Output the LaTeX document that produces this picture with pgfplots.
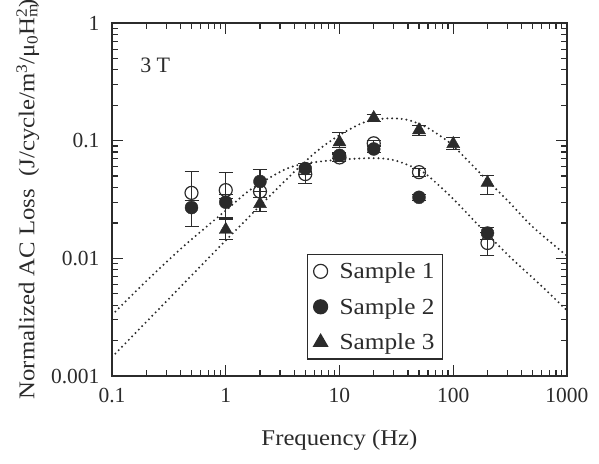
\documentclass[border=0pt]{standalone}
\usepackage{fontspec}
\setmainfont{Liberation Serif}
\newfontfamily\wide[FakeStretch=1.1]{Liberation Serif}
\usepackage{pgfplots}
\pgfplotsset{compat=1.18}
\definecolor{ink}{HTML}{2B2B2B}
\begin{document}
\begin{tikzpicture}
\useasboundingbox (-112pt,-87pt) rectangle (487pt,376pt);
\begin{axis}[
  at={(0pt,0pt)}, anchor=south west,
  scale only axis, width=455pt, height=353pt,
  xmode=log, ymode=log,
  xmin=0.1, xmax=1000, ymin=0.001, ymax=1,
  axis line style={line width=1.8pt, ink},
  tick align=inside,
  major tick length=11pt, minor tick length=6pt,
  every tick/.style={line width=1.2pt, ink},
  xtick={0.1,1,10,100,1000}, xticklabels={0.1,1,10,100,1000},
  ytick={0.001,0.01,0.1,1}, yticklabels={0.001,0.01,0.1,1},
  tick label style={font=\fontsize{21.5}{24}\selectfont, ink},
  /pgf/number format/assume math mode=true,
  xticklabel style={yshift=-9pt},
  yticklabel style={xshift=-9pt},
  xlabel={Frequency (Hz)},
  xlabel style={font=\wide\fontsize{22.5}{26}\selectfont, ink, at={(rel axis cs:0.5,0)}, anchor=center, yshift=-64pt},
  ylabel={Normalized AC Loss\ \ (J/cycle/m\textsuperscript{3}/μ\textsubscript{0}H\rlap{\textsubscript{m}}\textsuperscript{2})},
  ylabel style={font=\wide\fontsize{22.5}{26}\selectfont, ink, at={(rel axis cs:-0.185,0.5)}, anchor=center},
  legend style={at={(rel axis cs:0.4286,0.3456)}, anchor=north west,
    draw=ink, line width=1.2pt, font=\wide\fontsize{23}{26}\selectfont,
    inner xsep=6pt, inner ysep=6pt, row sep=14pt, text=ink,
    /tikz/every odd column/.append style={column sep=10pt}},
  legend cell align=left,
  error bars/error bar style={line width=1.1pt, ink},
  error bars/error mark options={rotate=90, mark size=7pt, line width=1.1pt, ink},
]
\addlegendimage{only marks, mark=o, mark size=7pt, mark options={fill=white, draw=ink, line width=1.2pt}}
\addlegendentry{Sample 1}
\addlegendimage{only marks, mark=*, mark size=7pt, mark options={fill=ink, draw=ink}}
\addlegendentry{Sample 2}
\addlegendimage{only marks, mark=triangle*, mark size=8pt, mark options={fill=ink, draw=ink}}
\addlegendentry{Sample 3}
% fit curves
\addplot[ink, line width=2.2pt, line cap=round, dash pattern=on 0pt off 4.8pt, smooth, forget plot] coordinates {
(0.1,0.0033) (0.2,0.0064) (0.42,0.0125) (1,0.0255) (1.63,0.038) (3.2,0.056) (5,0.064) (10,0.069) (18,0.071) (26,0.070) (34,0.066) (51,0.056) (62,0.049) (100,0.032) (172,0.0185) (315,0.0103) (600,0.0058) (1000,0.0036)};
\addplot[ink, line width=2.2pt, line cap=round, dash pattern=on 0pt off 4.8pt, smooth, forget plot] coordinates {
(0.1,0.00145) (0.3,0.0043) (1,0.0142) (3.2,0.044) (6,0.078) (9.5,0.108) (15,0.138) (20,0.150) (28,0.155) (40,0.150) (60,0.128) (93,0.096) (130,0.070) (172,0.053) (300,0.031) (500,0.0185) (1000,0.0105)};
% Sample 2 (filled circles)
\addplot[forget plot, only marks, mark=*, mark size=6.5pt, mark options={fill=ink, draw=ink},
  error bars/.cd, y dir=both, y explicit] table[x=x, y=y, y error plus=ep, y error minus=em] {
x y ep em
0.5 0.027 0.004 0.0085
1 0.030 0.005 0.008
2 0.045 0.012 0.008
5 0.058 0.006 0.006
10 0.075 0.005 0.005
20 0.085 0.006 0.006
50 0.033 0.002 0.002
200 0.0164 0.002 0.002
};
% Sample 1 (open circles)
\addplot[forget plot, only marks, mark=o, mark size=6.5pt, mark options={fill=white, draw=ink, line width=1.2pt},
  error bars/.cd, y dir=both, y explicit] table[x=x, y=y, y error plus=ep, y error minus=em] {
x y ep em
0.5 0.036 0.019 0.005
1 0.038 0.016 0.006
2 0.037 0.020 0.004
5 0.052 0.012 0.009
10 0.072 0.005 0.005
20 0.095 0.006 0.006
50 0.054 0.004 0.004
200 0.0135 0.003 0.003
};
% Sample 3 (triangles)
\addplot[forget plot, only marks, mark=triangle*, mark size=7.5pt, mark options={fill=ink, draw=ink},
  error bars/.cd, y dir=both, y explicit] table[x=x, y=y, y error plus=ep, y error minus=em] {
x y ep em
1 0.0175 0.004 0.003
2 0.029 0.004 0.004
10 0.097 0.020 0.010
20 0.156 0.010 0.010
50 0.123 0.012 0.012
100 0.094 0.012 0.010
200 0.044 0.007 0.009
};
\node[anchor=west, font=\fontsize{22}{24}\selectfont, text=ink] at (axis cs:0.165,0.44) {3 T};
\end{axis}
\end{tikzpicture}
\end{document}
